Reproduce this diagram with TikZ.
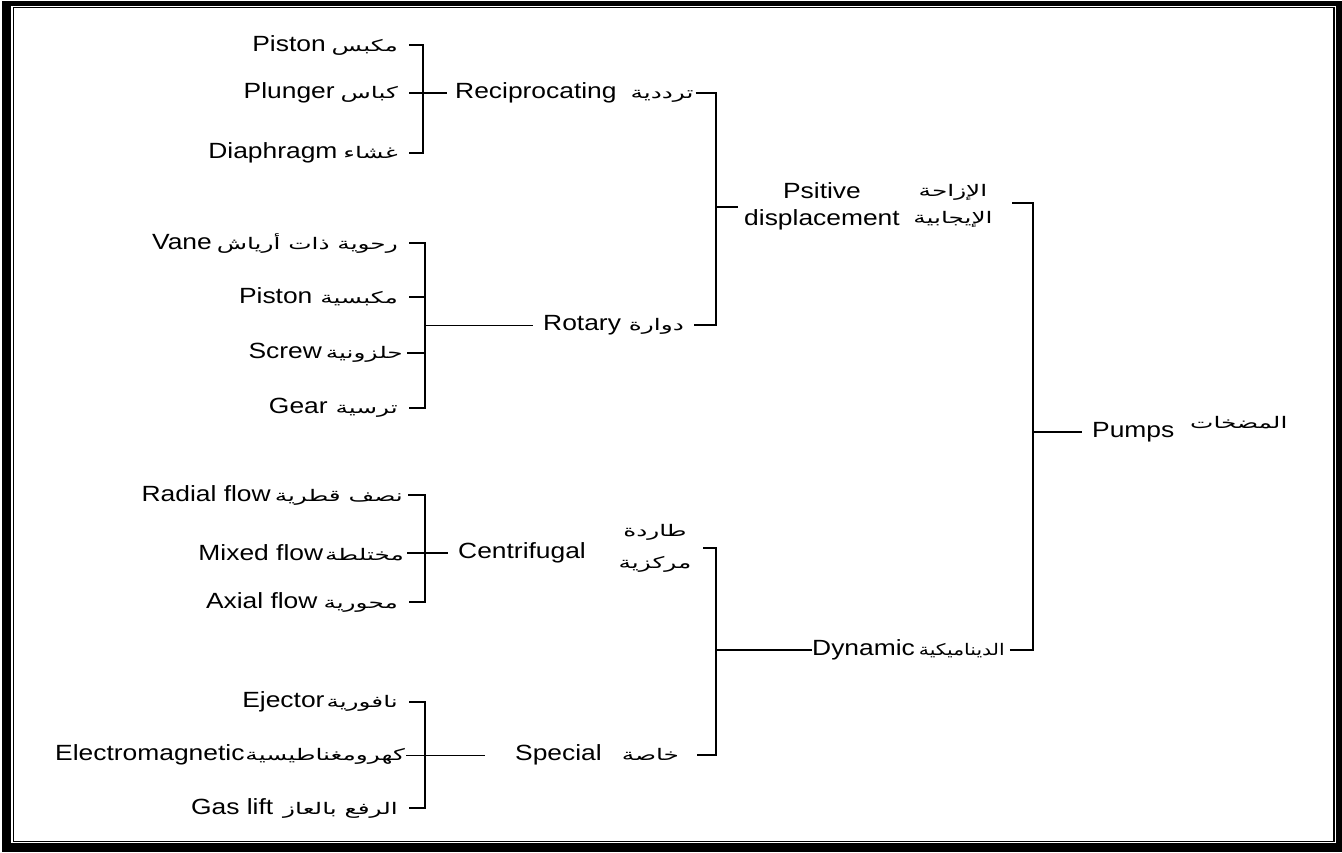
\documentclass[tikz,border=0pt]{standalone}
\usepackage{fontspec}
\usepackage{graphicx}
\setmainfont{Liberation Sans}[FakeStretch=1.2]
\newfontfamily\arabicfont[Script=Arabic,FakeStretch=1.55]{DejaVu Sans}
\TeXXeTstate=1
\newcommand\artxt[1]{{\arabicfont\fontsize{16}{20}\selectfont\beginR #1\endR}}
\begin{document}
\begin{tikzpicture}[x=1pt,y=-1pt,
  lbl/.style={inner sep=0pt, font=\fontsize{22}{27}\selectfont},
  arlbl/.style={inner sep=0pt, align=center, font=\arabicfont\fontsize{16}{32}\selectfont},
  br/.style={line width=1.9pt},
  thinline/.style={line width=0.9pt}]
\useasboundingbox (0,0) rectangle (1342,852);
% frame
\fill[black] (1.5,0.5) rectangle (1342,852);
\fill[white] (11,5.5) rectangle (1335.5,843);
\draw[line width=1.2pt] (13.5,7.5) rectangle (1334,841.5);

% ---------- leaves: reciprocating ----------
\node[lbl, anchor=east] (p1) at (398,45) {Piston\hspace{6pt}\artxt{مكبس}};
\node[lbl, anchor=east] (p2) at (398,93) {Plunger\hspace{6pt}\artxt{كباس}};
\node[lbl, anchor=east] (p3) at (398,153) {Diaphragm\hspace{6pt}\artxt{غشاء}};
% ---------- leaves: rotary ----------
\node[lbl, anchor=east] (v1) at (398,243) {Vane\hspace{5pt}\artxt{رحوية ذات أرياش}};
\node[lbl, anchor=east] (v2) at (398,297) {Piston\hspace{8pt}\artxt{مكبسية}};
\node[lbl, anchor=east] (v3) at (403,353) {Screw\hspace{4pt}\artxt{حلزونية}};
\node[lbl, anchor=east] (v4) at (398,408) {Gear\hspace{8pt}\artxt{ترسية}};
% ---------- leaves: centrifugal ----------
\node[lbl, anchor=east] (c1) at (403,495) {Radial flow\hspace{4pt}\artxt{نصف قطرية}};
\node[lbl, anchor=east] (c2) at (404,553) {Mixed flow\hspace{2pt}\artxt{مختلطة}};
\node[lbl, anchor=east] (c3) at (398,602) {Axial flow\hspace{6pt}\artxt{محورية}};
% ---------- leaves: special ----------
\node[lbl, anchor=east] (s1) at (398,702) {Ejector\hspace{2pt}\artxt{نافورية}};
\node[lbl, anchor=east] (s2) at (405,755) {Electromagnetic\hspace{1pt}\artxt{كهرومغناطيسية}};
\node[lbl, anchor=east] (s3) at (398,808) {Gas lift\hspace{10pt}\artxt{الرفع بالعاز}};

% ---------- middle level ----------
\node[lbl, anchor=west] (rec) at (455,93) {Reciprocating\hspace{14pt}\artxt{ترددية}};
\node[lbl, anchor=west] (rot) at (543,325) {Rotary\hspace{8pt}\artxt{دوارة}};
\node[lbl, anchor=west] (cen) at (458,553) {Centrifugal};
\node[arlbl] (cenar) at (655,548) {\beginR طاردة\endR\\\beginR مركزية\endR};
\node[lbl, anchor=west] (spe) at (515,755) {Special\hspace{20pt}\artxt{خاصة}};

% ---------- upper level ----------
\node[lbl, align=center] (pos) at (822,206) {Psitive\\displacement};
\node[arlbl, font=\arabicfont\fontsize{16}{27}\selectfont] (posar) at (953,206) {\beginR الإزاحة\endR\\\beginR الإيجابية\endR};
\node[lbl, anchor=west] (dyn) at (812,650) {Dynamic\hspace{4pt}\scalebox{0.82}[1]{\artxt{الديناميكية}}};
\node[lbl, anchor=west] (pumps) at (1092,432) {Pumps};
\node[inner sep=0pt, font=\arabicfont\fontsize{16}{18}\selectfont, anchor=west] (pumpsar) at (1190,423) {\beginR المضخات\endR};

% ---------- junction coordinates ----------
\coordinate (bRec) at (423,93);
\coordinate (bRot) at (425,325);
\coordinate (bCen) at (425,553);
\coordinate (bSpe) at (425,755);
\coordinate (bPos) at (716,207);
\coordinate (bDyn) at (716,650);
\coordinate (bPumps) at (1033,432);
\coordinate (tPos) at (1012,203);
\coordinate (tCen) at (703,548);

% ---------- reciprocating bracket ----------
\draw[br] ([xshift=11pt]p1.east) -| (bRec) |- ([xshift=11pt]p3.east);
\draw[br] ([xshift=11pt]p2.east) -- ([xshift=-8pt]rec.west);
% ---------- rotary bracket ----------
\draw[br] ([xshift=11pt]v1.east) -| (bRot) |- ([xshift=11pt]v4.east);
\draw[br] ([xshift=11pt]v2.east) -- (v2.east -| bRot);
\draw[br] ([xshift=4pt]v3.east) -- (v3.east -| bRot);
\draw[thinline] (bRot) -- ([xshift=-10pt]rot.west);
% ---------- centrifugal bracket ----------
\draw[br] ([xshift=5pt]c1.east) -| (bCen) |- ([xshift=11pt]c3.east);
\draw[br] ([xshift=3pt]c2.east) -- ([xshift=-10pt]cen.west);
% ---------- special bracket ----------
\draw[br] ([xshift=11pt]s1.east) -| (bSpe) |- ([xshift=11pt]s3.east);
\draw[thinline] ([xshift=1pt]s2.east) -- ([xshift=-30pt]spe.west);

% ---------- positive displacement bracket ----------
\draw[br] ([xshift=2pt]rec.east) -| (bPos) |- ([xshift=10pt]rot.east);
\draw[br] (bPos) -- ([xshift=-6pt]bPos -| pos.west);
\draw[br] (tPos) -| (bPumps);
% ---------- dynamic bracket ----------
\draw[br] (tCen) -| (bDyn) |- ([xshift=18pt]spe.east);
\draw[br] (bDyn) -- (dyn.west);
\draw[br] ([xshift=5pt]dyn.east) -| (bPumps);
% ---------- pumps ----------
\draw[br] (bPumps) -- ([xshift=-10pt]pumps.west);
\end{tikzpicture}
\end{document}
